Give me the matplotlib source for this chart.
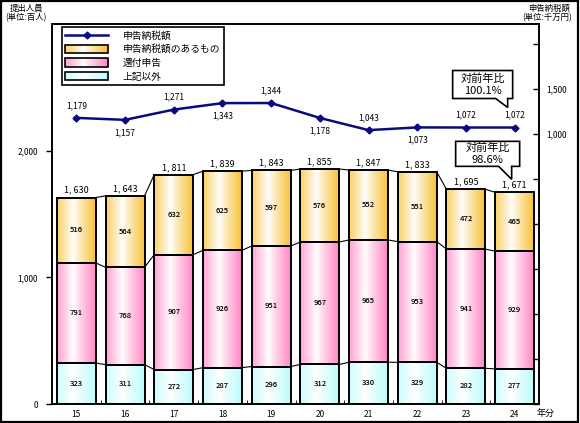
import numpy as np
import matplotlib
matplotlib.use('Agg')
import matplotlib.pyplot as plt
import matplotlib.transforms as mtransforms
from matplotlib.patches import Rectangle, Polygon
from matplotlib.legend_handler import HandlerBase
from matplotlib.lines import Line2D
from matplotlib.colors import to_rgb

plt.rcParams['font.family'] = ['Noto Sans CJK JP', 'DejaVu Sans']

# data (百人 / 千万円)
years = ['15', '16', '17', '18', '19', '20', '21', '22', '23', '24']
other = [323, 311, 272, 287, 296, 312, 330, 329, 282, 277]
refund = [791, 768, 907, 926, 951, 967, 965, 953, 941, 929]
taxpay = [516, 564, 632, 625, 597, 576, 552, 551, 472, 465]
totals = [1630, 1643, 1811, 1839, 1843, 1855, 1847, 1833, 1695, 1671]
tax_amount = [1179, 1157, 1271, 1343, 1344, 1178, 1043, 1073, 1072, 1072]
label_above = [True, False, True, False, True, False, True, False, True, True]

YELLOW = '#F8C23A'
PINK = '#FF88C4'
CYAN = '#BDFBFB'
NAVY = '#0A0A80'


def gradient_row(color, n=64):
    c = np.array(to_rgb(color))
    t = np.linspace(0, 1, n)
    w = np.abs(t - 0.42) / 0.58
    w = np.clip(w, 0, 1) ** 0.9
    return (1 - w)[:, None] * np.ones(3) + w[:, None] * c


class GradientHandler(HandlerBase):
    def create_artists(self, legend, orig_handle, xdescent, ydescent,
                       width, height, fontsize, trans):
        cols = gradient_row(orig_handle.get_facecolor(), 24)
        n = len(cols)
        arts = []
        for k, c in enumerate(cols):
            arts.append(Rectangle((-xdescent + k * width / n, -ydescent),
                                  width / n * 1.3, height, facecolor=c,
                                  edgecolor='none', transform=trans))
        arts.append(Rectangle((-xdescent, -ydescent), width, height,
                              facecolor='none', edgecolor='black', lw=1.2,
                              transform=trans))
        return arts


fig = plt.figure(figsize=(5.8, 4.23), dpi=100)
ax = fig.add_axes([52 / 580, 19 / 423, 487 / 580, 380 / 423])

x = np.arange(len(years))
other_a = np.array(other)
refund_a = np.array(refund)
taxpay_a = np.array(taxpay)
segments = [(other_a, 0, CYAN), (refund_a, other_a, PINK),
            (taxpay_a, other_a + refund_a, YELLOW)]

for vals, bottom, col in segments:
    bars = ax.bar(x, vals, 0.8, bottom=bottom, facecolor='none',
                  edgecolor='black', lw=1.4, zorder=3)
    img = gradient_row(col)[None, :, :]
    for b in bars:
        im = ax.imshow(img, extent=[b.get_x(), b.get_x() + b.get_width(),
                                    b.get_y(), b.get_y() + b.get_height()],
                       aspect='auto', zorder=2, interpolation='bilinear')
        im.set_clip_path(b)
    bott = np.zeros(len(x)) + bottom
    for i, v in enumerate(vals):
        ax.text(x[i], bott[i] + v / 2, str(v), ha='center', va='center',
                fontsize=5.5, fontweight='medium', zorder=4)

# series lines between bars
levels = [other_a, other_a + refund_a, other_a + refund_a + taxpay_a]
for lev in levels:
    for i in range(len(x) - 1):
        ax.plot([x[i] + 0.4, x[i + 1] - 0.4], [lev[i], lev[i + 1]],
                color='black', lw=0.8, zorder=1)

for i, t in enumerate(totals):
    ax.annotate(f'{t // 1000}, {t % 1000:03d}', (x[i], t), xytext=(0, 2),
                textcoords='offset points', ha='center', va='bottom',
                fontsize=6.5)

ax.set_xlim(-0.5, len(x) - 0.5)
ax.set_ylim(0, 3000)
ax.set_yticks([0, 1000, 2000])
ax.set_yticklabels(['0', '1,000', '2,000'], fontsize=6)
ax.tick_params(axis='y', direction='out', length=4, width=1, pad=6)
ax.set_xticks(x)
ax.set_xticklabels(years, fontsize=6)
ax.tick_params(axis='x', length=0, pad=4)
ax.set_xticks(x[:-1] + 0.5, minor=True)
ax.tick_params(axis='x', which='minor', direction='in', length=3)
for s in ax.spines.values():
    s.set_linewidth(1.2)

ax2 = ax.twinx()
ax2.set_ylim(-2000, 2222)
rt = list(range(-2000, 2001, 500))
ax2.set_yticks(rt)
ax2.set_yticklabels([f'{v:,}' if v in (1000, 1500) else '' for v in rt],
                    fontsize=6)
ax2.tick_params(axis='y', direction='in', length=4, width=1, pad=5)
ax2.plot(x, tax_amount, color=NAVY, lw=1.8, marker='D', ms=3.5, zorder=5)
for i, v in enumerate(tax_amount):
    off = 9 if label_above[i] else -9
    ax2.annotate(f'{v:,}', (x[i], v), xytext=(0, off),
                 textcoords='offset points', ha='center', va='center',
                 fontsize=6)
for s in ax2.spines.values():
    s.set_linewidth(1.2)

handles = [Line2D([], [], color=NAVY, lw=1.8, marker='D', ms=3.5),
           Rectangle((0, 0), 1, 1, facecolor=YELLOW),
           Rectangle((0, 0), 1, 1, facecolor=PINK),
           Rectangle((0, 0), 1, 1, facecolor=CYAN)]
labels = ['申告納税額', '申告納税額のあるもの', '還付申告', '上記以外']
hm = {h: GradientHandler() for h in handles[1:]}
leg = ax2.legend(handles, labels, handler_map=hm, loc='upper left',
                 bbox_to_anchor=(0.0205, 0.992), borderaxespad=0,
                 fontsize=7, handlelength=4.4, handleheight=0.95,
                 handletextpad=1.5, labelspacing=0.38, borderpad=0.35,
                 numpoints=1, fancybox=False, framealpha=1, edgecolor='black')
leg.get_frame().set_linewidth(1.2)


def callout(axis, anchor, shift, box, base, text):
    tx, ty = axis.transData.transform(anchor)
    tx += shift[0]
    ty += shift[1]
    l, r, b, t = box
    verts = [(l, t), (r, t), (r, b), (base[1], b), (0, 0), (base[0], b), (l, b)]
    verts = [(tx + vx, ty + vy) for vx, vy in verts]
    ident = mtransforms.IdentityTransform()
    poly = Polygon(verts, closed=True, facecolor='white', edgecolor='black',
                   lw=1.2, transform=ident, zorder=6)
    fig.add_artist(poly)
    fig.text(tx + (l + r) / 2, ty + (b + t) / 2, text, transform=ident,
             ha='center', va='center', fontsize=8, linespacing=1.3, zorder=7)


fig.canvas.draw()
callout(ax2, (x[-1], tax_amount[-1]), (-7, 20), (-55, 5, 9, 37), (-12, 0),
        '対前年比\n100.1%')
callout(ax, (x[-1], totals[-1]), (-3, 13), (-56, 8, 13, 38), (-13, 0),
        '対前年比\n98.6%')

fig.text(10 / 580, 1 - 8.5 / 423, '提出人員', fontsize=6, ha='left', va='center')
fig.text(5 / 580, 1 - 17.5 / 423, '(単位:百人)', fontsize=6, ha='left', va='center')
fig.text(549 / 580, 1 - 8.5 / 423, '申告納税額', fontsize=6, ha='center', va='center')
fig.text(547 / 580, 1 - 17.5 / 423, '(単位:千万円)', fontsize=6, ha='center', va='center')
fig.text(546 / 580, 1 - 413 / 423, '年分', fontsize=6.5, ha='center', va='center')

fig.add_artist(Rectangle((0.002, 0.003), 0.995, 0.994, transform=fig.transFigure,
                         facecolor='none', edgecolor='black', lw=1.6))

fig.savefig('out.png', dpi=100)
